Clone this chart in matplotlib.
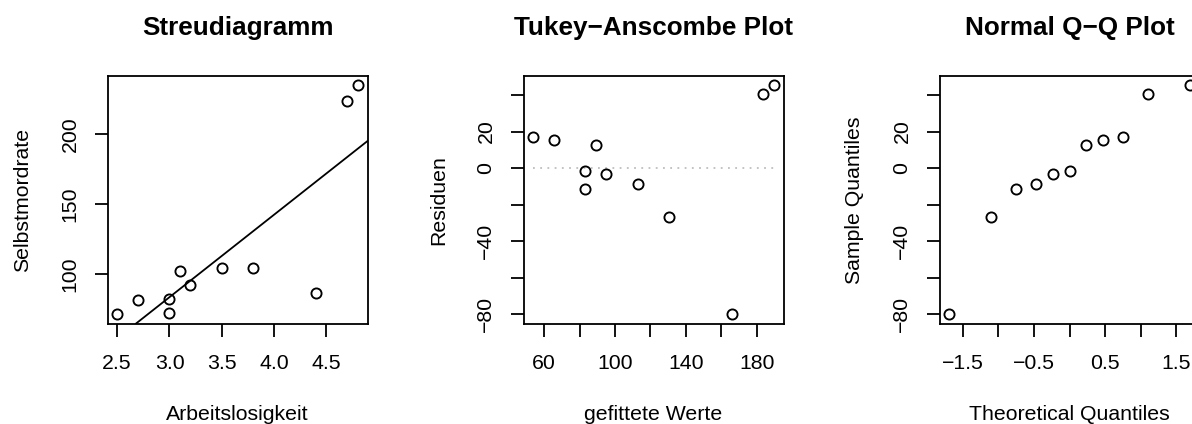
import matplotlib
matplotlib.use("Agg")
import matplotlib.pyplot as plt
import numpy as np

plt.rcParams['font.family'] = ['Liberation Sans', 'DejaVu Sans']

# ---- data ----
arbeitslosigkeit = [2.5, 2.7, 3.0, 3.0, 3.1, 3.2, 3.5, 3.8, 4.4, 4.7, 4.8]
selbstmordrate = [71, 81, 82, 72, 102, 92, 104, 104, 86, 224, 235]
reg_intercept = -93.9
reg_slope = 59.06

gefittete_werte = [53.8, 65.6, 83.3, 83.3, 89.2, 95.1, 112.8, 130.6, 166.0, 183.7, 189.6]
residuen = [17.2, 15.4, -1.3, -11.3, 12.8, -3.1, -8.8, -26.6, -80.0, 40.3, 45.4]

theoretical_q = [-1.69, -1.10, -0.75, -0.47, -0.23, 0.0, 0.23, 0.47, 0.75, 1.10, 1.69]
sample_q = [-80.0, -26.6, -11.3, -8.8, -3.1, -1.3, 12.8, 15.4, 17.2, 40.3, 45.4]

titles = ["Streudiagramm", "Tukey\u2212Anscombe Plot", "Normal Q\u2212Q Plot"]
xlabels = ["Arbeitslosigkeit", "gefittete Werte", "Theoretical Quantiles"]
ylabels = ["Selbstmordrate", "Residuen", "Sample Quantiles"]

p1_xticks = [2.5, 3.0, 3.5, 4.0, 4.5]
p1_xlabels = ["2.5", "3.0", "3.5", "4.0", "4.5"]
p1_yticks = [100, 150, 200]
p1_ylabels = ["100", "150", "200"]
p2_xticks = [60, 80, 100, 120, 140, 160, 180]
p2_xlabels = ["60", "", "100", "", "140", "", "180"]
res_yticks = [-80, -60, -40, -20, 0, 20, 40]
res_ylabels = ["\u221280", "", "\u221240", "", "0", "20", ""]
p3_xticks = [-1.5, -1.0, -0.5, 0.0, 0.5, 1.0, 1.5]
p3_xlabels = ["\u22121.5", "", "\u22120.5", "", "0.5", "", "1.5"]

# ---- layout ----
W, H = 1192, 424
fig = plt.figure(figsize=(W / 100, H / 100), dpi=100)
lefts = [107.5, 523.5, 939.5]
box_w, top, bottom = 260, 76, 323.5
FS = 15.3
TFS = 18.8
LW = 1.3


def rng(v):
    lo, hi = min(v), max(v)
    d = (hi - lo) * 0.04
    return lo - d, hi + d


axes = []
for i, l in enumerate(lefts):
    ax = fig.add_axes([l / W, (H - bottom) / H, box_w / W, (bottom - top) / H])
    for s in ax.spines.values():
        s.set_linewidth(LW)
        s.set_color('black')
    ax.tick_params(axis='both', direction='out', length=9.2, width=LW,
                   labelsize=FS, colors='black')
    ax.tick_params(axis='x', pad=13.0)
    ax.tick_params(axis='y', pad=11.0, labelrotation=90)
    cx = (l + box_w / 2) / W
    fig.text(cx, 1 - 35 / H, titles[i], ha='center', va='baseline',
             fontsize=TFS, fontweight='bold')
    fig.text(cx, 1 - 420 / H, xlabels[i], ha='center', va='baseline', fontsize=FS)
    fig.text((l - 79.2) / W, 1 - ((top + bottom) / 2) / H, ylabels[i],
             rotation=90, rotation_mode='anchor', ha='center', va='baseline',
             fontsize=FS)
    axes.append(ax)

mk = dict(linestyle='none', marker='o', markersize=7.3, markerfacecolor='none',
          markeredgecolor='black', markeredgewidth=1.35)

# Panel 1
ax = axes[0]
ax.plot(arbeitslosigkeit, selbstmordrate, **mk)
ax.axline((0, reg_intercept), slope=reg_slope, color='black', lw=LW)
ax.set_xlim(*rng(arbeitslosigkeit))
ax.set_ylim(*rng(selbstmordrate))
ax.set_xticks(p1_xticks, p1_xlabels)
ax.set_yticks(p1_yticks, p1_ylabels, rotation=90, va='center')

# Panel 2
ax = axes[1]
ax.plot([min(gefittete_werte), max(gefittete_werte)], [0, 0], linestyle=(0, (1, 3)),
        color='#bebebe', lw=LW)
ax.plot(gefittete_werte, residuen, **mk)
ax.set_xlim(*rng(gefittete_werte))
ax.set_ylim(*rng(residuen))
ax.set_xticks(p2_xticks, p2_xlabels)
ax.set_yticks(res_yticks, res_ylabels, rotation=90, va='center')

# Panel 3
ax = axes[2]
ax.plot(theoretical_q, sample_q, **mk)
ax.set_xlim(*rng(theoretical_q))
ax.set_ylim(*rng(sample_q))
ax.set_xticks(p3_xticks, p3_xlabels)
ax.set_yticks(res_yticks, res_ylabels, rotation=90, va='center')

fig.savefig("out.png", dpi=100)
